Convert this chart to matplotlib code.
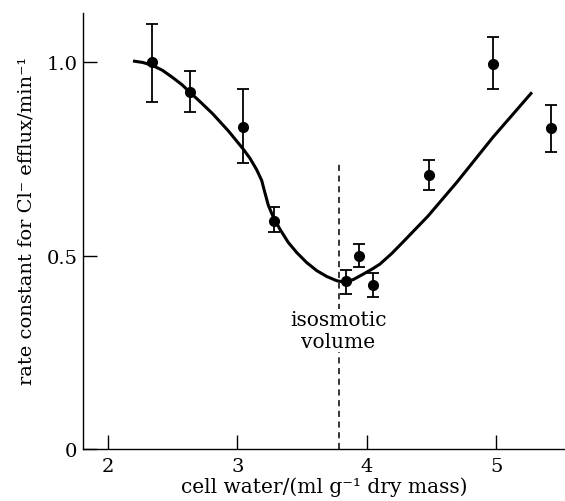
import matplotlib
matplotlib.use("Agg")
import matplotlib.pyplot as plt

# Measured efflux rate constants (mean with error bar limits)
cell_water = [2.34, 2.63, 3.04, 3.28, 3.84, 3.94, 4.05, 4.48, 4.97, 5.42]
rate_const = [1.00, 0.922, 0.832, 0.589, 0.434, 0.499, 0.424, 0.708, 0.995, 0.829]
err_upper = [1.098, 0.977, 0.930, 0.625, 0.463, 0.530, 0.455, 0.747, 1.065, 0.889]
err_lower = [0.897, 0.871, 0.739, 0.560, 0.400, 0.470, 0.393, 0.669, 0.930, 0.767]

# Hand-drawn trend curve
curve_x = [2.193, 2.270, 2.340, 2.420, 2.500, 2.570, 2.633, 2.720, 2.810,
           2.930, 3.045, 3.097, 3.148, 3.187, 3.212, 3.238, 3.277, 3.328,
           3.392, 3.457, 3.534, 3.612, 3.689, 3.766, 3.830, 3.894, 3.971,
           4.049, 4.100, 4.190, 4.278, 4.471, 4.695, 4.973, 5.274]
curve_y = [1.003, 0.999, 0.992, 0.979, 0.960, 0.942, 0.922, 0.895, 0.866,
           0.822, 0.775, 0.751, 0.722, 0.694, 0.662, 0.630, 0.599, 0.568,
           0.534, 0.508, 0.482, 0.461, 0.446, 0.435, 0.431, 0.438, 0.452,
           0.467, 0.478, 0.505, 0.535, 0.602, 0.690, 0.806, 0.922]

isosmotic_x = 3.78
isosmotic_top = 0.742

x_ticks = [2, 3, 4, 5]
y_ticks = [0, 0.5, 1.0]
y_tick_labels = ["0", "0.5", "1.0"]

plt.rcParams["font.family"] = ["DejaVu Serif"]

fig = plt.figure(figsize=(5.65, 5.02), dpi=100)
ax = fig.add_axes([83 / 565, 52 / 502, (565 - 83) / 565, (450 - 14) / 502])

ax.plot(curve_x, curve_y, color="black", lw=2.2, solid_capstyle="butt",
        solid_joinstyle="round")

yerr = [[m - lo for m, lo in zip(rate_const, err_lower)],
        [hi - m for m, hi in zip(rate_const, err_upper)]]
ax.errorbar(cell_water, rate_const, yerr=yerr, fmt="o", color="black",
            ms=7, elinewidth=1.3, capsize=4, capthick=1.3)

ax.plot([isosmotic_x, isosmotic_x], [0, isosmotic_top], color="black",
        lw=1.1, dashes=(4, 3))
ax.text(isosmotic_x, 0.306, "isosmotic\nvolume", ha="center", va="center",
        fontsize=14.5, linespacing=1.15,
        bbox=dict(facecolor="white", edgecolor="none", pad=1))

ax.set_xlim(1.807, 5.529)
ax.set_ylim(0, 1.127)
ax.set_xticks(x_ticks)
ax.set_yticks(y_ticks)
ax.set_yticklabels(y_tick_labels)
ax.tick_params(direction="in", length=10, width=1.0, labelsize=14, pad=6)
ax.tick_params(axis="y", pad=4)

for side in ("top", "right"):
    ax.spines[side].set_visible(False)
for side in ("left", "bottom"):
    ax.spines[side].set_linewidth(1.0)

ax.set_xlabel("cell water/(ml g\u207b\u00b9 dry mass)", fontsize=14.5, labelpad=1)
ax.set_ylabel("rate constant for Cl\u207b efflux/min\u207b\u00b9", fontsize=14,
              va="center")
ax.yaxis.set_label_coords(-0.118, 0.525)

fig.savefig("out.png", dpi=100)
